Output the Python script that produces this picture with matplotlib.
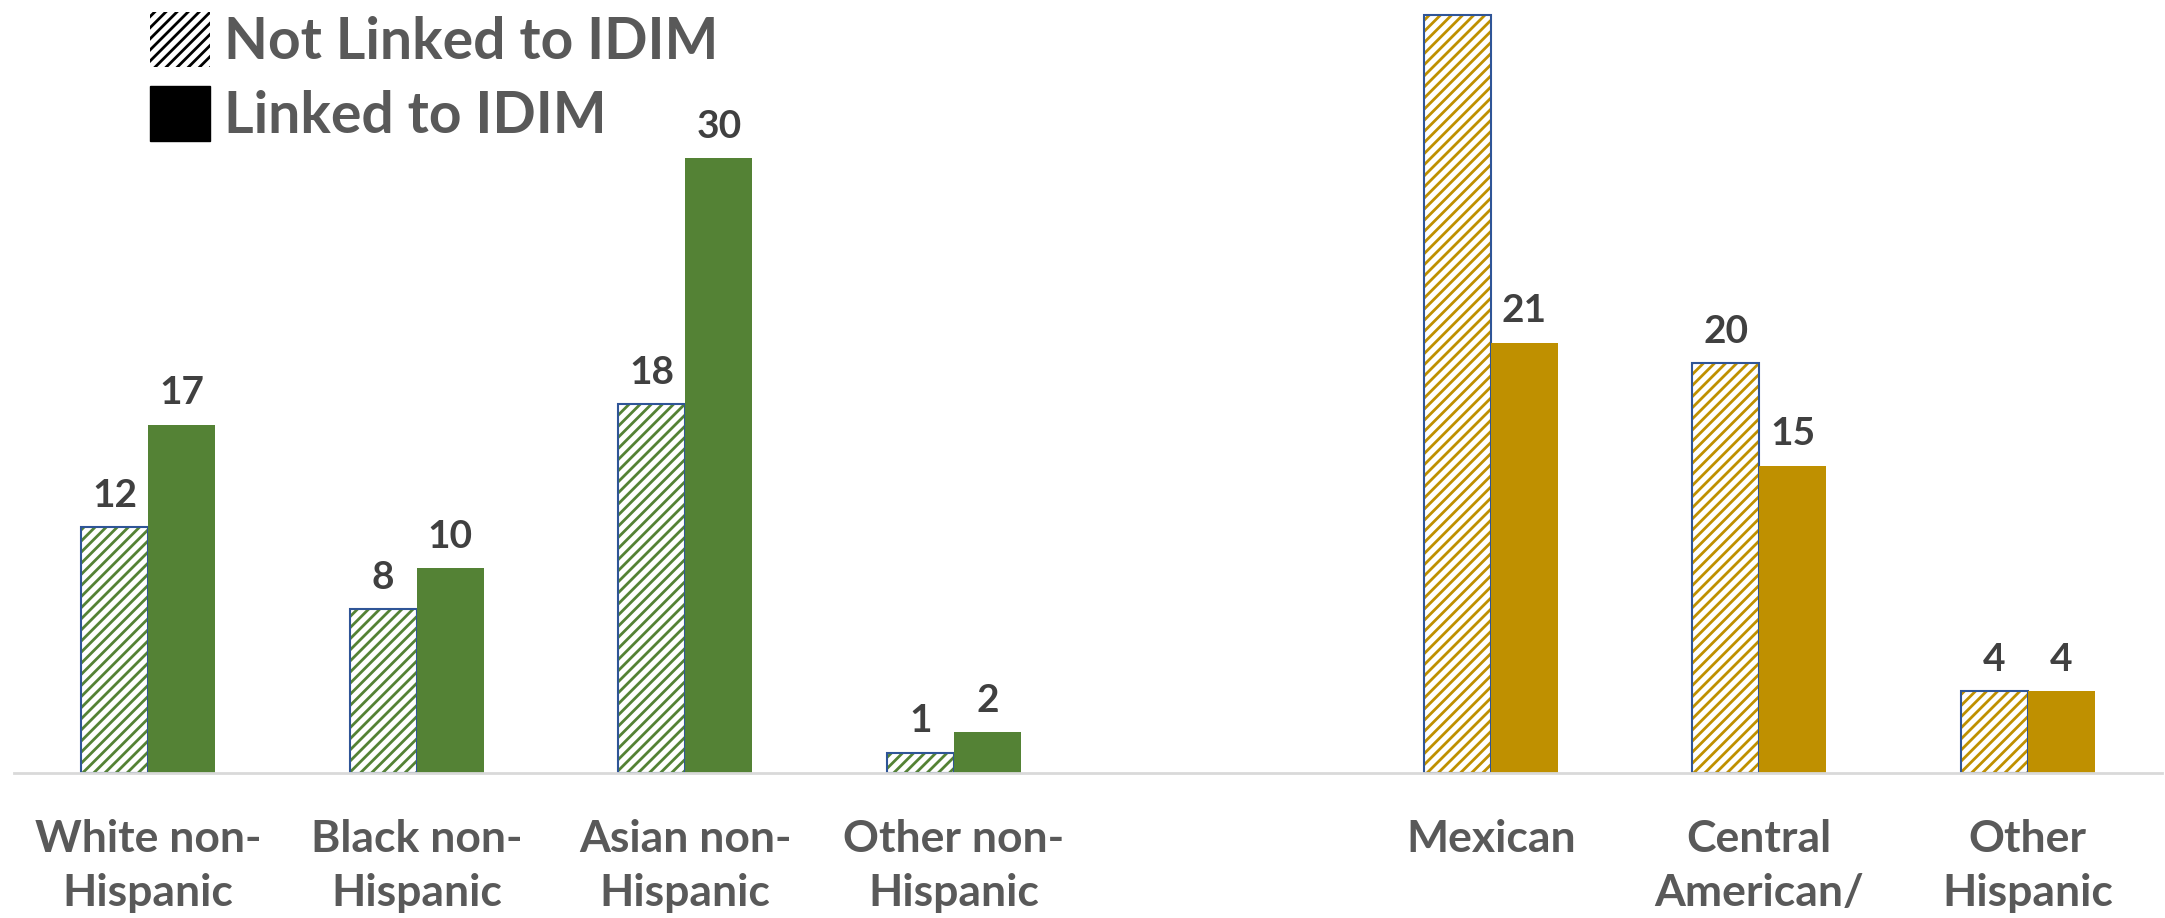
import numpy as np
import matplotlib
matplotlib.use("Agg")
import matplotlib.pyplot as plt
from matplotlib.patches import Patch

categories = ["White non-\nHispanic", "Black non-\nHispanic", "Asian non-\nHispanic",
              "Other non-\nHispanic", "", "Mexican", "Central\nAmerican/", "Other\nHispanic"]
not_linked = [12, 8, 18, 1, np.nan, 37, 20, 4]
linked = [17, 10, 30, 2, np.nan, 21, 15, 4]
group_colors = ["#548235"] * 5 + ["#BF9000"] * 3

plt.rcParams["font.family"] = ["Lato", "DejaVu Sans"]
plt.rcParams["hatch.linewidth"] = 2.0

W, H = 2165, 918
fig = plt.figure(figsize=(W / 100, H / 100), dpi=100)
ax = fig.add_axes([14 / W, (H - 773) / H, 2148 / W, 773 / H])
ymax = 773 / 20.5

x = np.arange(len(categories))
bw = 0.25
border = "#2F5597"
for i in x:
    c = group_colors[i]
    if np.isnan(not_linked[i]):
        continue
    # hatched "not linked" bar: hatch in group colour, thin blue border
    ax.bar(i - bw / 2, not_linked[i], bw, color="white", edgecolor=c, hatch="///", linewidth=0)
    ax.bar(i - bw / 2, not_linked[i], bw, color="none", edgecolor=border, linewidth=1.5)
    ax.bar(i + bw / 2, linked[i], bw, color=c, linewidth=0)
    for xx, v in [(i - bw / 2, not_linked[i]), (i + bw / 2, linked[i])]:
        if v + 1.55 > ymax - 0.5:
            continue  # label falls off the top of the chart, as in the original
        ax.text(xx, v + 1.55, f"{v:g}", ha="center", va="center", fontsize=28,
                fontweight="bold", color="#404040")

ax.set_xlim(-0.5, len(categories) - 0.5)
ax.set_ylim(0, ymax)
ax.set_yticks([])
ax.set_xticks(x)
ax.set_xticklabels(categories, fontsize=32, fontweight="bold", color="#595959", linespacing=1.42)
ax.tick_params(axis="x", length=0, pad=33)
for s in ["top", "right", "left"]:
    ax.spines[s].set_visible(False)
ax.spines["bottom"].set_color("#D9D9D9")
ax.spines["bottom"].set_linewidth(2)

handles = [Patch(facecolor="white", edgecolor="black", hatch="///", linewidth=0, label="Not Linked to IDIM"),
           Patch(facecolor="black", edgecolor="black", label="Linked to IDIM")]
leg = fig.legend(handles=handles, loc="upper left", bbox_to_anchor=(110 / W, 1.03), frameon=False,
                 prop={"size": 41, "weight": "bold"}, handlelength=1.05, handleheight=1.1,
                 handletextpad=0.25, labelspacing=0.3, borderaxespad=0.3)
for t in leg.get_texts():
    t.set_color("#595959")

fig.savefig("out.png", dpi=100)
